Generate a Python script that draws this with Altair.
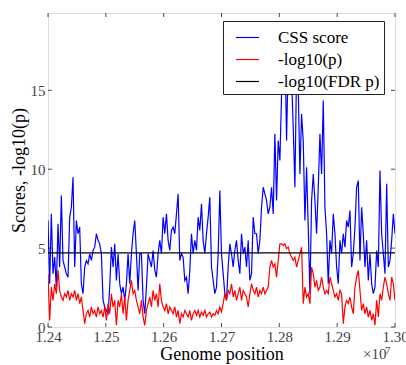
import altair as alt
import numpy as np
import pandas as pd

START = 12.4e6
END = 13.0e6
FDR = 4.7

CSS = [6.75, 2.74, 7.17, 3.38, 4.43, 2.53, 6.54, 3.80, 8.33, 4.22,
       3.80, 3.38, 3.16, 6.96, 7.59, 9.49, 3.80, 6.75, 5.91, 6.33,
       2.74, 2.11, 3.80, 4.22, 4.01, 4.64, 4.22, 4.85, 5.06, 5.91,
       5.49, 5.27, 4.64, 1.69, 1.27, 1.05, 0.84, 2.53, 5.06, 3.80,
       5.27, 2.95, 4.64, 2.74, 2.11, 2.53, 1.69, 2.74, 4.64, 2.74,
       4.64, 5.91, 6.75, 4.64, 2.32, 4.64, 4.64, 1.69, 0.84, 2.53,
       4.64, 4.22, 3.80, 4.85, 3.59, 3.16, 4.64, 5.49, 4.64, 6.96,
       5.91, 7.17, 5.49, 4.85, 6.12, 6.33, 5.91, 7.17, 8.44, 4.22,
       4.64, 4.43, 2.95, 3.16, 2.11, 3.59, 5.91, 4.64, 5.49, 4.85,
       6.96, 6.12, 7.81, 5.49, 4.64, 5.91, 6.96, 8.23, 3.80, 2.95,
       2.11, 2.53, 4.64, 8.65, 4.64, 3.38, 2.11, 1.69, 3.80, 5.27,
       4.64, 3.80, 4.85, 5.49, 4.22, 3.38, 5.91, 4.64, 5.06, 3.80,
       5.49, 2.95, 3.38, 6.96, 5.91, 5.91, 4.64, 5.49, 7.59, 8.86,
       8.44, 8.02, 7.17, 7.59, 8.86, 7.17, 12.24, 8.02, 11.81, 10.55,
       14.77, 16.2, 18.3, 11.81, 17.0, 18.8, 15.8, 12.66, 8.86, 16.4,
       15.2, 9.70, 13.50, 11.81, 6.75, 10.13, 6.33, 2.11, 8.02, 9.70,
       8.02, 5.91, 8.86, 12.24, 9.70, 14.35, 7.59, 5.91, 2.74, 5.49,
       4.64, 7.17, 5.91, 3.80, 2.74, 5.49, 4.64, 5.91, 5.06, 6.75,
       6.33, 7.38, 3.80, 4.64, 6.33, 8.86, 9.28, 4.22, 7.59, 5.91,
       3.80, 5.49, 2.95, 4.64, 2.74, 2.11, 2.53, 4.85, 3.80, 9.92,
       5.91, 4.64, 3.38, 9.07, 3.80, 4.22, 5.49, 7.17, 5.91]

LOGP = [3.38, 0.42, 2.53, 1.69, 2.74, 2.11, 3.59, 2.32, 1.90, 1.69,
        2.11, 1.90, 2.32, 1.69, 2.11, 1.90, 2.32, 1.69, 2.11, 1.48,
        1.90, 1.05, 0.21, 0.84, 1.05, 0.63, 1.27, 0.84, 1.05, 0.63,
        1.27, 0.84, 1.05, 0.63, 1.27, 0.42, 1.48, 0.84, 2.11, 1.27,
        1.69, 0.11, 1.69, 1.27, 2.11, 0.84, 1.90, 0.42, 1.69, 2.32,
        2.95, 2.11, 2.32, 1.69, 1.27, 0.84, 1.69, 0.63, 0.11, 1.05,
        1.48, 1.90, 1.27, 2.32, 1.69, 2.11, 1.27, 2.74, 1.69, 1.27,
        1.05, 1.48, 0.84, 1.27, 1.05, 0.84, 1.27, 0.63, 1.05, 0.21,
        0.84, 0.63, 1.05, 0.84, 0.63, 1.05, 0.42, 0.84, 1.05, 0.74,
        1.05, 0.63, 0.95, 0.74, 1.05, 0.63, 0.84, 0.95, 0.63, 0.84,
        0.74, 1.05, 0.84, 1.27, 0.95, 1.48, 2.11, 1.69, 2.32, 2.11,
        2.74, 1.90, 2.32, 1.69, 2.11, 2.53, 1.69, 2.32, 2.11, 1.90,
        1.27, 2.11, 2.74, 2.32, 2.11, 2.53, 1.90, 2.32, 2.11, 2.53,
        2.11, 2.32, 2.53, 3.80, 4.22, 3.80, 4.01, 3.16, 4.22, 5.27,
        5.27, 5.17, 5.27, 4.96, 5.06, 4.64, 4.43, 4.22, 4.43, 3.80,
        4.22, 4.64, 5.06, 1.48, 2.53, 1.90, 2.11, 1.48, 3.80, 3.38,
        2.53, 2.95, 2.32, 2.53, 3.16, 2.53, 2.11, 2.32, 2.11, 3.16,
        2.74, 2.32, 1.90, 2.11, 1.69, 2.32, 2.11, 0.21, 1.27, 1.69,
        1.48, 1.90, 1.27, 0.84, 2.53, 3.16, 3.59, 2.32, 1.05, 1.48,
        0.84, 1.27, 0.63, 1.05, 0.42, 0.84, 0.11, 1.69, 0.63, 2.11,
        1.69, 2.53, 3.16, 2.74, 2.11, 1.69, 3.16, 2.74, 1.69]

XTICKS = [12.4e6, 12.5e6, 12.6e6, 12.7e6, 12.8e6, 12.9e6, 13.0e6]
YTICKS = [0, 5, 10, 15]
YMAX = 19.9
SERIES = ["CSS score", "-log10(p)", "-log10(FDR p)"]
COLORS = ["#0000ff", "#ff0000", "#000000"]

FONT = "Liberation Serif"
W, H = 347, 314

css_df = pd.DataFrame({"pos": np.linspace(START, END, len(CSS)), "v": CSS, "s": SERIES[0]})
p_df = pd.DataFrame({"pos": np.linspace(START, END, len(LOGP)), "v": LOGP, "s": SERIES[1]})
fdr_df = pd.DataFrame({"pos": [START, END], "v": [FDR, FDR], "s": SERIES[2]})
xt_df = pd.DataFrame({"pos": XTICKS})
yt_df = pd.DataFrame({"v": YTICKS})

xs = alt.Scale(domain=[START, END], nice=False, zero=False)
ys = alt.Scale(domain=[0, YMAX], nice=False)
cs = alt.Scale(domain=SERIES, range=COLORS)

xaxis = alt.Axis(title="Genome position", values=XTICKS,
                 labelExpr="format(datum.value / 1e7, '.2f')",
                 ticks=False, domain=False, grid=False, labelFlush=False,
                 labelOverlap=False, labelFont=FONT, labelFontSize=15,
                 labelColor="#444444", labelPadding=2, titleFont=FONT,
                 titleFontSize=18, titleFontWeight="normal", titleColor="black",
                 titlePadding=1)
yaxis = alt.Axis(title="Scores, -log10(p)", values=YTICKS, ticks=False,
                 domain=False, grid=False, labelFlush=False, labelFont=FONT,
                 labelFontSize=15, labelColor="#444444", labelPadding=3,
                 titleFont=FONT, titleFontSize=18, titleFontWeight="normal",
                 titleColor="black", titlePadding=2)

legend = alt.Legend(title=None, orient="none", legendX=175, legendY=8,
                    symbolType="stroke", symbolSize=529, symbolStrokeWidth=1.2,
                    labelFont=FONT, labelFontSize=17, labelColor="black",
                    labelOffset=18, padding=4, symbolOffset=8,
                    strokeColor="#222222", fillColor="white", rowPadding=1,
                    labelLimit=300)


def line(df):
    return alt.Chart(df).mark_line(strokeWidth=1.2, clip=True).encode(
        x=alt.X("pos:Q", scale=xs, axis=xaxis),
        y=alt.Y("v:Q", scale=ys, axis=yaxis),
        color=alt.Color("s:N", scale=cs, legend=legend, sort=SERIES),
    )


tick_style = dict(color="black", thickness=1, size=4)
bottom_ticks = alt.Chart(xt_df).mark_tick(orient="vertical", **tick_style).encode(
    x=alt.X("pos:Q", scale=xs, axis=xaxis), y=alt.value(H - 2))
top_ticks = alt.Chart(xt_df).mark_tick(orient="vertical", **tick_style).encode(
    x=alt.X("pos:Q", scale=xs, axis=xaxis), y=alt.value(2))
left_ticks = alt.Chart(yt_df).mark_tick(orient="horizontal", **tick_style).encode(
    y=alt.Y("v:Q", scale=ys, axis=yaxis), x=alt.value(2))
right_ticks = alt.Chart(yt_df).mark_tick(orient="horizontal", **tick_style).encode(
    y=alt.Y("v:Q", scale=ys, axis=yaxis), x=alt.value(W - 2))

mult = alt.Chart(pd.DataFrame({"t": ["×10"]})).mark_text(
    font=FONT, fontSize=15, color="#444444", align="left", baseline="alphabetic"
).encode(text="t:N", x=alt.value(315), y=alt.value(346))
mult_exp = alt.Chart(pd.DataFrame({"t": ["7"]})).mark_text(
    font=FONT, fontSize=11, color="#444444", align="left", baseline="alphabetic"
).encode(text="t:N", x=alt.value(337), y=alt.value(341))

chart = alt.layer(
    line(css_df), line(p_df), line(fdr_df),
    bottom_ticks, top_ticks, left_ticks, right_ticks, mult, mult_exp,
).properties(
    width=W, height=H,
    autosize=alt.AutoSizeParams(type="none"),
    padding={"left": 48, "top": 13, "right": 11, "bottom": 38},
).configure_view(stroke="black", strokeWidth=1).configure(background="white")

chart.save("out.html", embed_options={"renderer": "svg", "actions": False})
